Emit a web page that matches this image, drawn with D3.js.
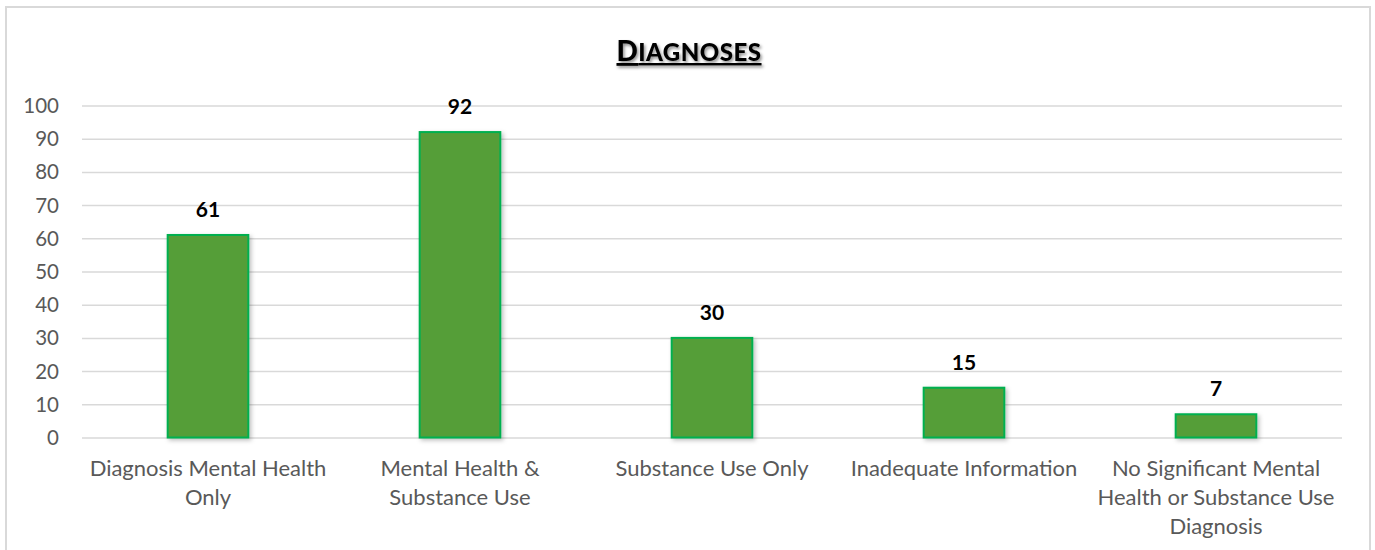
<!DOCTYPE html>
<html><head><meta charset="utf-8">
<script src="https://cdn.jsdelivr.net/npm/d3@7"></script>
<style>
html,body{margin:0;padding:0;background:#fff;}
svg{display:block;}
</style></head>
<body>
<svg id="chart" width="1375" height="550"></svg>
<script>
const categories = ["Diagnosis Mental Health Only","Mental Health & Substance Use","Substance Use Only","Inadequate Information","No Significant Mental Health or Substance Use Diagnosis"];
const categoryLines = [["Diagnosis Mental Health","Only"],["Mental Health &","Substance Use"],["Substance Use Only"],["Inadequate Information"],["No Significant Mental","Health or Substance Use","Diagnosis"]];
const values = [61,92,30,15,7];
const yTicks = [0,10,20,30,40,50,60,70,80,90,100];
const title = "Diagnoses";

const W = 1375, H = 550;
const m = {left:82, right:33, top:105.5, bottom:112.5};
const FONT = "Lato, 'Open Sans', sans-serif";
const svg = d3.select("#chart");

const defs = svg.append("defs");
const f = defs.append("filter").attr("id","shadow").attr("x","-20%").attr("y","-20%").attr("width","150%").attr("height","150%");
f.append("feDropShadow").attr("dx",2).attr("dy",2).attr("stdDeviation",2).attr("flood-color","#000").attr("flood-opacity",0.25);
const ft = defs.append("filter").attr("id","tshadow").attr("x","-10%").attr("y","-30%").attr("width","130%").attr("height","180%");
ft.append("feDropShadow").attr("dx",1.5).attr("dy",2).attr("stdDeviation",1.5).attr("flood-color","#000").attr("flood-opacity",0.45);

// outer border
svg.append("rect").attr("x",6).attr("y",7).attr("width",1364).attr("height",560)
  .attr("fill","#fff").attr("stroke","#d9d9d9").attr("stroke-width",2);

const x = d3.scaleBand().domain(categories).range([m.left, W - m.right]).paddingInner(0.68).paddingOuter(0.34);
const y = d3.scaleLinear().domain([0,100]).range([H - m.bottom, m.top]);

// gridlines
const yAxis = d3.axisLeft(y).tickValues(yTicks).tickSize(-(W - m.right - m.left)).tickPadding(23);
const gy = svg.append("g").attr("transform",`translate(${m.left},0)`).call(yAxis);
gy.select(".domain").remove();
gy.selectAll(".tick line").attr("stroke","#d9d9d9").attr("stroke-width",1.5);
gy.selectAll(".tick text").attr("fill","#595959").style("font-family",FONT).style("font-size","20.5px").attr("dy","0.34em");

// bars
svg.append("g").selectAll("rect").data(values).join("rect")
  .attr("x",(d,i)=>x(categories[i]))
  .attr("y",d=>y(d))
  .attr("width",x.bandwidth())
  .attr("height",d=>y(0)-y(d))
  .attr("fill","#549e39")
  .attr("stroke","#00b050")
  .attr("stroke-width",2)
  .attr("filter","url(#shadow)");

// data labels
svg.append("g").selectAll("text").data(values).join("text")
  .attr("x",(d,i)=>x(categories[i]) + x.bandwidth()/2)
  .attr("y",d=>y(d) - 18)
  .attr("text-anchor","middle")
  .style("font-family",FONT).style("font-size","21px").style("font-weight","bold")
  .attr("fill","#000")
  .text(d=>d);

// category labels
const xl = svg.append("g");
categoryLines.forEach((lines,i)=>{
  const t = xl.append("text")
    .attr("x", x(categories[i]) + x.bandwidth()/2)
    .attr("y", 476)
    .attr("text-anchor","middle")
    .attr("fill","#595959")
    .style("font-family",FONT).style("font-size","22px");
  lines.forEach((ln,j)=>{
    t.append("tspan").attr("x", x(categories[i]) + x.bandwidth()/2).attr("dy", j===0?0:29).text(ln);
  });
});

// title (small caps, bold, underlined, shadow)
const tt = svg.append("text")
  .attr("x", 689).attr("y", 61)
  .attr("text-anchor","middle")
  .attr("fill","#000")
  .attr("filter","url(#tshadow)")
  .style("font-family",FONT).style("font-weight","900")
  .style("letter-spacing","0.5px")
  .style("text-decoration","underline");
tt.append("tspan").style("font-size","28px").text(title.charAt(0).toUpperCase());
tt.append("tspan").style("font-size","24px").text(title.slice(1).toUpperCase());
</script>
</body></html>
